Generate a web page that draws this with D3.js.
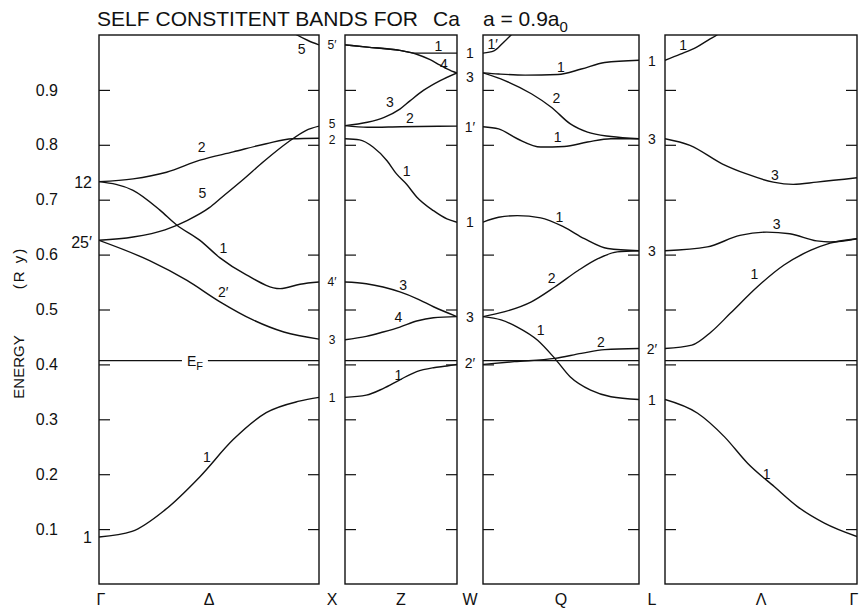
<!DOCTYPE html>
<html><head><meta charset="utf-8">
<script src="https://cdn.jsdelivr.net/npm/d3@7"></script>
<style>
html,body{margin:0;padding:0;background:#fff;}
svg{display:block;font-family:"Liberation Sans",Arial,sans-serif;}
</style></head><body>
<svg id="chart" width="862" height="609"></svg>
<script>
// Energy axis (Ry)
const energyTicks = [0.1, 0.2, 0.3, 0.4, 0.5, 0.6, 0.7, 0.8, 0.9];
const symmetryPoints = ["Γ", "X", "W", "L", "Γ"];
const directions = ["Δ", "Z", "Q", "Λ"];
const fermiEnergy = 0.407;

// Level labels at the symmetry points: [label, energy]
const gammaLevels = [["12", 0.732], ["25′", 0.623], ["1", 0.0855]];
const xLevels = [["5′", 0.982], ["5", 0.838], ["2", 0.809], ["4′", 0.55], ["3", 0.445], ["1", 0.34]];
const wLevels = [["1", 0.967], ["3", 0.923], ["1′", 0.832], ["1", 0.659], ["3", 0.487], ["2′", 0.402]];
const lLevels = [["1", 0.953], ["3", 0.811], ["3", 0.607], ["2′", 0.429], ["1", 0.336]];

// Bands along each direction: [fraction of path, energy]
const deltaBands = [
  [[0,.0855],[.15,.0958],[.30,.135],[.46,.196],[.61,.263],[.76,.312],[.91,.333],[1,.340]],
  [[0,.626],[.23,.589],[.40,.553],[.55,.514],[.70,.481],[.84,.459],[1,.446]],
  [[0,.733],[.155,.717],[.277,.681],[.353,.654],[.459,.626],[.55,.594],[.67,.563],[.823,.538],[.914,.546],[1,.550]],
  [[0,.626],[.155,.632],[.30,.645],[.40,.662],[.50,.685],[.56,.705],[.65,.735],[.75,.77],[.86,.805],[.94,.826],[1,.834]],
  [[0,.733],[.155,.738],[.307,.75],[.459,.772],[.61,.787],[.76,.802],[.88,.811],[1,.812]],
  [[.86,1.01],[.90,1.0],[.95,.99],[1,.982]]
];
const zBands = [
  [[0,.340],[.19,.344],[.34,.356],[.49,.372],[.64,.387],[.79,.394],[.91,.397],[1,.400]],
  [[0,.445],[.19,.451],[.34,.459],[.49,.468],[.64,.479],[.79,.485],[1,.487]],
  [[0,.550],[.19,.547],[.34,.541],[.49,.532],[.64,.52],[.79,.505],[1,.487]],
  [[0,.811],[.13,.809],[.25,.796],[.375,.771],[.46,.747],[.55,.728],[.64,.705],[.79,.68],[.91,.665],[1,.659]],
  [[0,.835],[.2,.832],[.5,.833],[1,.834]],
  [[0,.835],[.2,.841],[.35,.850],[.49,.865],[.58,.880],[.7,.899],[.85,.917],[1,.931]],
  [[0,.982],[.2,.978],[.49,.972],[.64,.967],[1,.967]],
  [[0,.982],[.2,.978],[.49,.972],[.64,.965],[.76,.955],[.85,.945],[.97,.933],[1,.931]]
];
const qBands = [
  [[0,.967],[.07,.971],[.126,.985],[.19,1.003],[.25,1.02]],
  [[0,.931],[.10,.929],[.27,.927],[.48,.928],[.63,.938],[.78,.950],[1,.954]],
  [[0,.931],[.14,.917],[.31,.893],[.44,.868],[.56,.838],[.67,.823],[.82,.815],[1,.811]],
  [[0,.833],[.10,.829],[.22,.811],[.37,.796],[.52,.797],[.67,.805],[.82,.811],[1,.811]],
  [[0,.659],[.10,.668],[.22,.671],[.37,.667],[.52,.65],[.65,.629],[.80,.611],[1,.607]],
  [[0,.487],[.14,.496],[.31,.514],[.46,.541],[.61,.571],[.74,.593],[.86,.605],[1,.607]],
  [[0,.487],[.116,.481],[.22,.468],[.35,.444],[.46,.411],[.56,.377],[.69,.353],[.82,.341],[1,.336]],
  [[0,.400],[.20,.405],[.46,.411],[.63,.42],[.78,.427],[1,.429]]
];
const lambdaBands = [
  [[0,.954],[.08,.965],[.165,.978],[.235,.993],[.27,1.0],[.30,1.01]],
  [[0,.811],[.13,.799],[.30,.765],[.425,.747],[.564,.732],[.668,.728],[.79,.732],[1,.740]],
  [[0,.607],[.22,.614],[.39,.635],[.53,.641],[.65,.638],[.79,.625],[.86,.623],[1,.629]],
  [[0,.429],[.14,.435],[.24,.459],[.34,.493],[.48,.541],[.62,.581],[.76,.608],[.86,.621],[1,.629]],
  [[0,.336],[.17,.311],[.31,.268],[.43,.22],[.57,.177],[.69,.141],[.83,.111],[1,.0865]]
];

// Band symmetry labels: [label, fraction, energy]
const deltaTags = [["5",.921,.975],["2",.467,.796],["5",.47,.712],["1",.565,.613],["2′",.565,.532],["1",.49,.232]];
const zTags = [["1",.833,.98],["4",.884,.948],["3",.40,.878],["2",.58,.848],["1",.55,.752],["3",.52,.545],["4",.476,.487],["1",.476,.381]];
const qTags = [["1′",.062,.984],["1",.50,.941],["2",.47,.885],["1",.479,.814],["1",.489,.668],["2",.44,.557],["1",.37,.462],["2",.756,.441]];
const lambdaTags = [["1",.095,.982],["3",.573,.745],["3",.582,.655],["1",.465,.565],["1",.53,.2]];

const svg = d3.select("#chart");
const y = d3.scaleLinear().domain([0, 1]).range([584, 35]);
const panelRanges = [[99, 319], [345, 457], [483, 639], [665, 857]];
const panels = [
  { bands: deltaBands, tags: deltaTags },
  { bands: zBands, tags: zTags },
  { bands: qBands, tags: qTags },
  { bands: lambdaBands, tags: lambdaTags }
];
const ink = "#111";

// Title
const title = svg.append("g").attr("fill", ink).style("font-size", "21px");
title.append("text").attr("x", 97).attr("y", 26).attr("textLength", 321).attr("lengthAdjust", "spacing")
  .text("SELF CONSTITENT BANDS FOR");
title.append("text").attr("x", 433).attr("y", 26).text("Ca");
const aText = title.append("text").attr("x", 483).attr("y", 26);
aText.append("tspan").text("a = 0.9a");
aText.append("tspan").attr("dy", 6).style("font-size", "15px").text("0");

// Energy axis title
svg.append("text").attr("transform", "translate(24,367) rotate(-90)").attr("text-anchor", "middle")
  .attr("fill", ink).style("font-size", "15px").text("ENERGY");
svg.append("text").attr("transform", "translate(24,268) rotate(-90)").attr("text-anchor", "middle")
  .attr("fill", ink).style("font-size", "15px").style("letter-spacing", "2px").text("(R y)");

panels.forEach((p, i) => {
  const [x0, x1] = panelRanges[i];
  const x = d3.scaleLinear().domain([0, 1]).range([x0, x1]);
  const g = svg.append("g");

  svg.append("clipPath").attr("id", "clip" + i).append("rect")
    .attr("x", x0).attr("y", y(1)).attr("width", x1 - x0).attr("height", y(0) - y(1));

  // Fermi level (broken for its label in the first panel)
  const efY = y(fermiEnergy);
  const segs = i === 0 ? [[x0, x(0.377)], [x(0.495), x1]] : [[x0, x1]];
  g.selectAll("line.ef").data(segs).join("line").attr("class", "ef")
    .attr("x1", d => d[0]).attr("x2", d => d[1]).attr("y1", efY).attr("y2", efY)
    .attr("stroke", ink).attr("stroke-width", 1.2);
  if (i === 0) {
    const ef = g.append("text").attr("x", x(0.40)).attr("y", efY + 5).attr("fill", ink).style("font-size", "14px");
    ef.append("tspan").text("E");
    ef.append("tspan").attr("dy", 4).style("font-size", "11px").text("F");
  }

  // Bands
  const line = d3.line().x(d => x(d[0])).y(d => y(d[1])).curve(d3.curveMonotoneX);
  g.append("g").attr("clip-path", `url(#clip${i})`)
    .selectAll("path").data(p.bands).join("path")
    .attr("d", line).attr("fill", "none").attr("stroke", ink).attr("stroke-width", 1.4);

  // Inward ticks on both sides
  const left = g.append("g").attr("transform", `translate(${x0},0)`)
    .call(d3.axisLeft(y).tickValues(energyTicks).tickSize(-11).tickPadding(41)
      .tickFormat(i === 0 ? d3.format(".1f") : () => ""));
  const right = g.append("g").attr("transform", `translate(${x1},0)`)
    .call(d3.axisRight(y).tickValues(energyTicks).tickSize(-11).tickFormat(() => ""));
  [left, right].forEach(a => {
    a.select(".domain").remove();
    a.selectAll("line").attr("stroke", ink).attr("stroke-width", 1.2);
    a.selectAll("text").attr("fill", ink).style("font-size", "16px")
      .style("font-family", "'Liberation Sans',Arial,sans-serif");
  });

  // Frame
  g.append("rect").attr("x", x0).attr("y", y(1)).attr("width", x1 - x0).attr("height", y(0) - y(1))
    .attr("fill", "none").attr("stroke", ink).attr("stroke-width", 1.4);

  // Band labels
  g.selectAll("text.tag").data(p.tags).join("text").attr("class", "tag")
    .attr("x", d => x(d[1])).attr("y", d => y(d[2])).attr("dy", "0.36em")
    .attr("text-anchor", "middle").attr("fill", ink).style("font-size", "14px").text(d => d[0]);

  // Direction label
  svg.append("text").attr("x", (x0 + x1) / 2).attr("y", 605).attr("text-anchor", "middle")
    .attr("fill", ink).style("font-size", "16px").text(directions[i]);
});

// Symmetry point labels along the bottom
const pointX = [panelRanges[0][0] + 2,
  (panelRanges[0][1] + panelRanges[1][0]) / 2,
  (panelRanges[1][1] + panelRanges[2][0]) / 2,
  (panelRanges[2][1] + panelRanges[3][0]) / 2,
  panelRanges[3][1] - 3];
svg.selectAll("text.pt").data(symmetryPoints).join("text").attr("class", "pt")
  .attr("x", (d, i) => pointX[i]).attr("y", 605).attr("text-anchor", "middle")
  .attr("fill", ink).style("font-size", "16px").text(d => d);

// Level labels between panels and at Γ
function levelLabels(levels, xPos, anchor, size) {
  svg.append("g").selectAll("text").data(levels).join("text")
    .attr("x", xPos).attr("y", d => y(d[1])).attr("dy", "0.36em")
    .attr("text-anchor", anchor).attr("fill", ink).style("font-size", size).text(d => d[0]);
}
levelLabels(gammaLevels, panelRanges[0][0] - 7, "end", "16px");
levelLabels(xLevels, pointX[1], "middle", "12px");
levelLabels(wLevels, pointX[2], "middle", "14px");
levelLabels(lLevels, pointX[3], "middle", "14px");
</script></body></html>
